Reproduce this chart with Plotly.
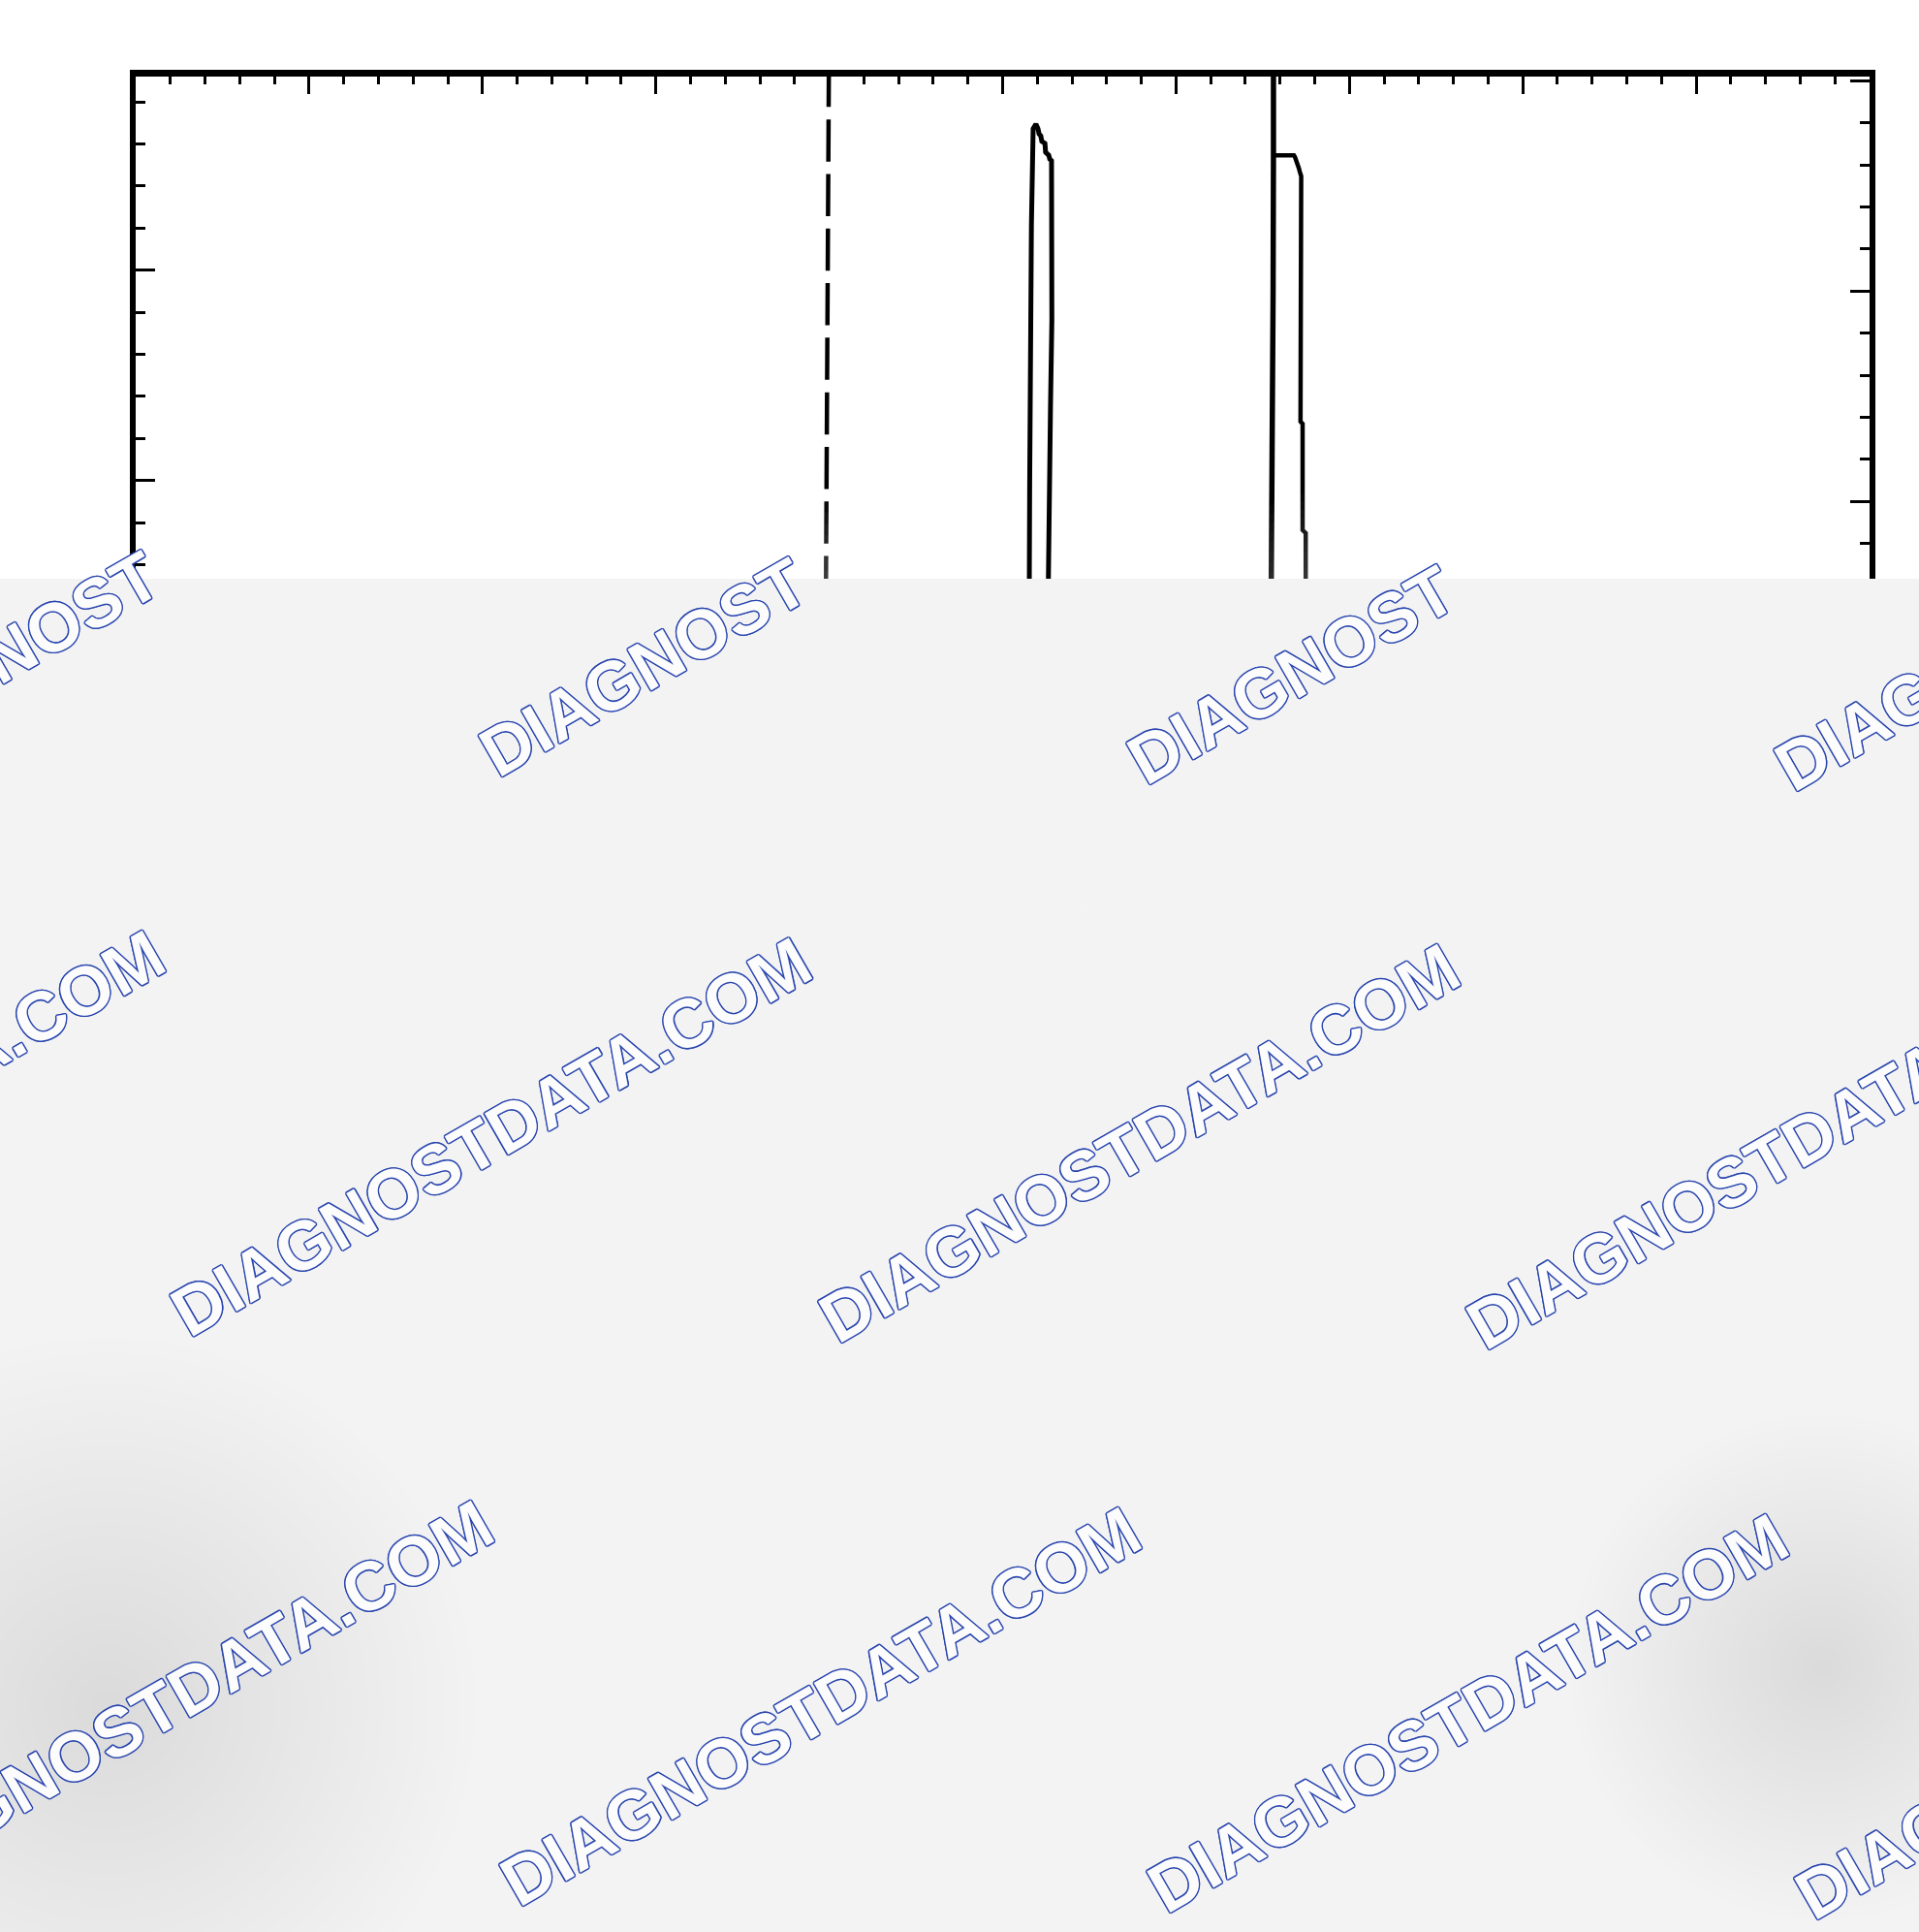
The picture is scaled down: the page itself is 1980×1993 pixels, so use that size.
import plotly.graph_objects as go

# ---------------- data ----------------
# x: chart units (0..50 across the frame), y: chart units (0..44.1 bottom->top)
x_range = [0, 50]
y_range = [0, 44.1]

divider_x = [19.99, 19.90]
divider_y = [44.38, 31.17]

peak1_x = [25.74, 25.77, 25.78, 25.80, 25.83, 25.88, 25.96, 26.02, 26.05, 26.10, 26.13,
           26.22, 26.24, 26.33, 26.36, 26.41, 26.42, 26.38, 26.34, 26.32, 26.31]
peak1_y = [31.17, 32.16, 34.40, 37.46, 40.55, 42.86, 42.97, 42.86, 42.74, 42.69, 42.56,
           42.51, 42.30, 42.23, 42.14, 42.10, 38.32, 36.24, 34.40, 32.16, 31.17]

peak2_left_x = [32.74, 32.75, 32.77, 32.80, 32.81, 32.81]
peak2_left_y = [31.17, 32.16, 35.55, 39.01, 42.23, 44.10]
peak2_right_x = [32.81, 33.40, 33.43, 33.49, 33.54, 33.57, 33.61, 33.60, 33.59, 33.65, 33.65, 33.74, 33.74]
peak2_right_y = [42.23, 42.23, 42.19, 42.07, 41.93, 41.84, 41.73, 39.01, 35.90, 35.85, 33.32, 33.25, 31.17]

watermark_text = "DIAGNOSTDATA.COM"
watermark_part = "DIAGNOST"

# ---------------- figure ----------------
W, H = 1980, 1993
fig = go.Figure()

fig.add_trace(go.Scatter(x=divider_x, y=divider_y, mode="lines",
                         line=dict(color="black", width=4.5, dash="43.5px,12.8px"),
                         hoverinfo="skip", showlegend=False))
fig.add_trace(go.Scatter(x=peak1_x, y=peak1_y, mode="lines",
                         line=dict(color="black", width=5),
                         hoverinfo="skip", showlegend=False))
fig.add_trace(go.Scatter(x=peak2_left_x, y=peak2_left_y, mode="lines",
                         line=dict(color="black", width=5.5),
                         hoverinfo="skip", showlegend=False))
fig.add_trace(go.Scatter(x=peak2_right_x, y=peak2_right_y, mode="lines",
                         line=dict(color="black", width=4.5),
                         hoverinfo="skip", showlegend=False))
# invisible trace to activate the right-hand tick axis
fig.add_trace(go.Scatter(x=[x_range[0]], y=[y_range[0]], yaxis="y2", mode="lines",
                         line=dict(width=0), hoverinfo="skip", showlegend=False))

top_px, left_px, right_px = 79, 140, 1929
fig.update_layout(
    width=W, height=H,
    margin=dict(l=0, r=0, t=0, b=0),
    paper_bgcolor="white", plot_bgcolor="white",
    showlegend=False,
    xaxis=dict(domain=[left_px / W, right_px / W], range=x_range, side="top",
               showline=True, linewidth=7, linecolor="black",
               ticks="inside", tickmode="linear", tick0=0, dtick=5,
               ticklen=18, tickwidth=3, tickcolor="black",
               minor=dict(ticks="inside", tick0=0, dtick=1, ticklen=8,
                          tickwidth=3, tickcolor="black"),
               showticklabels=False, showgrid=False, zeroline=False),
    yaxis=dict(domain=[0, 1 - top_px / H], range=y_range,
               showline=True, linewidth=6, linecolor="black", mirror=True,
               ticks="inside", tickmode="linear", tick0=4.5, dtick=5,
               ticklen=20, tickwidth=3, tickcolor="black",
               minor=dict(ticks="inside", tick0=0.5, dtick=1, ticklen=10,
                          tickwidth=3, tickcolor="black"),
               showticklabels=False, showgrid=False, zeroline=False),
    yaxis2=dict(overlaying="y", side="right", anchor="x", range=y_range,
                showline=False,
                ticks="inside", tickmode="linear", tick0=4, dtick=5,
                ticklen=20, tickwidth=3, tickcolor="black",
                minor=dict(ticks="inside", tick0=0, dtick=1, ticklen=10,
                           tickwidth=3, tickcolor="black"),
                showticklabels=False, showgrid=False, zeroline=False),
)

# ---------------- watermark overlay ----------------
ov_top = 597
shapes = [dict(type="rect", xref="paper", yref="paper", x0=-0.01, x1=1.01,
               y0=-0.01, y1=1 - ov_top / H, fillcolor="#f3f3f4",
               line=dict(width=0), layer="above")]

blobs = [
    (760, 760, 260, "rgb(255,255,255)", 0.6),
    (1080, 980, 240, "rgb(255,255,255)", 0.5),
    (1490, 1420, 280, "rgb(255,255,255)", 0.65),
    (720, 1990, 280, "rgb(255,255,255)", 0.6),
    (1400, 700, 200, "rgb(255,255,255)", 0.45),
    (110, 1760, 380, "rgb(160,161,166)", 0.30),
    (20, 1480, 240, "rgb(185,186,190)", 0.12),
    (0, 950, 240, "rgb(200,201,204)", 0.10),
    (730, 1260, 260, "rgb(185,186,190)", 0.12),
    (1880, 1720, 260, "rgb(175,176,181)", 0.20),
    (1150, 1730, 220, "rgb(190,191,195)", 0.12),
    (320, 1080, 180, "rgb(200,201,204)", 0.07),
]
n_layers = 24
for cx, cy, r, col, total in blobs:
    op = 1 - (1 - total) ** (1 / n_layers)
    for i in range(n_layers):
        rr = r * (1 - i / n_layers)
        shapes.append(dict(type="circle", xref="paper", yref="paper",
                           x0=(cx - rr) / W, x1=(cx + rr) / W,
                           y0=1 - (cy + rr) / H, y1=1 - (cy - rr) / H,
                           fillcolor=col, opacity=op, line=dict(width=0),
                           layer="above"))
fig.update_layout(shapes=shapes)

blue = "#2a46ae"
o = "1.5px"
shadow = ", ".join(f"{a} {b} 0 {blue}" for a, b in
                   [(o, "0"), ("-" + o, "0"), ("0", o), ("0", "-" + o),
                    ("1px", "1px"), ("-1px", "-1px"), ("1px", "-1px"), ("-1px", "1px")])
wm_font = dict(family="Liberation Sans, Arial, sans-serif", size=71,
               color="#fcfcfd", shadow=shadow)

full_centers = [(-161, 1165), (507, 1172), (1175, 1179), (1843, 1186),
                (178, 1753), (846, 1760), (1514, 1767), (2182, 1774)]
part_centers = [(-4, 682), (664, 689), (1332, 696), (2000, 703)]

annotations = []
for cx, cy in full_centers:
    annotations.append(dict(x=cx / W, y=1 - cy / H, xref="paper", yref="paper",
                            text="<b>" + watermark_text + "</b>", showarrow=False,
                            textangle=-30, xanchor="center", yanchor="middle",
                            font=wm_font))
for cx, cy in part_centers:
    annotations.append(dict(x=cx / W, y=1 - cy / H, xref="paper", yref="paper",
                            text="<b>" + watermark_part + "</b>", showarrow=False,
                            textangle=-30, xanchor="center", yanchor="middle",
                            font=wm_font))
fig.update_layout(annotations=annotations)

fig.write_html("out.html",
               config={"displayModeBar": False},
               post_script="document.body.style.margin='0';"
                           "document.documentElement.style.overflow='hidden';")
